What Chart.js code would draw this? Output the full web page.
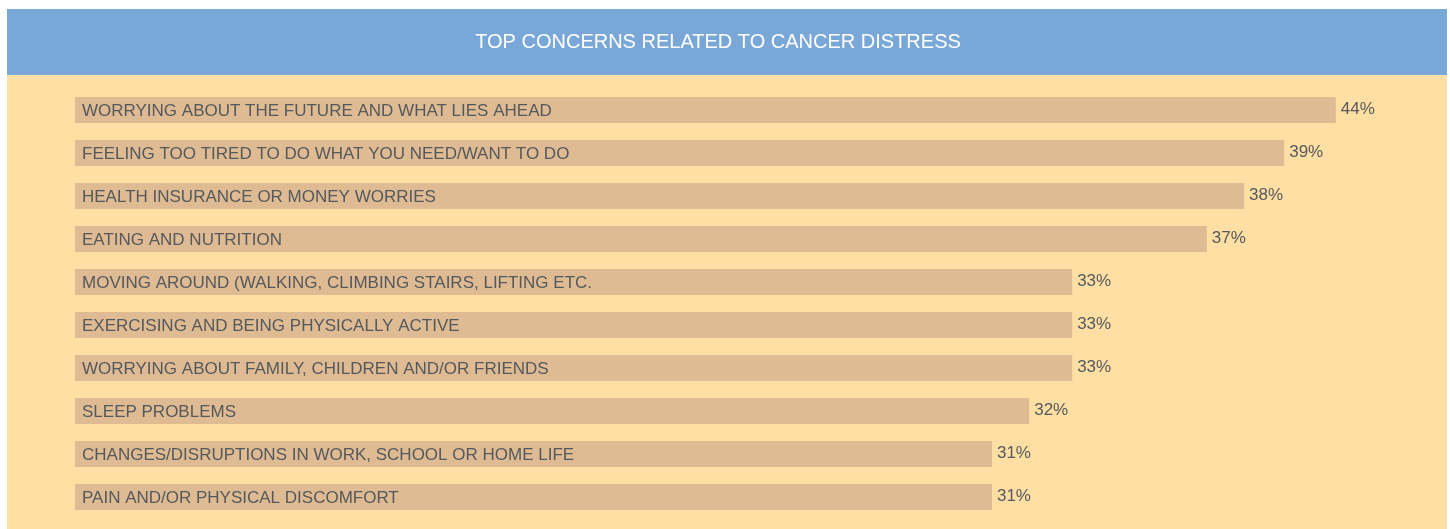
<!DOCTYPE html>
<html>
<head>
<meta charset="utf-8">
<script src="https://cdn.jsdelivr.net/npm/chart.js@4"></script>
<style>
    html, body { margin: 0; padding: 0; background: #ffffff; }
    #wrap { position: absolute; left: 7px; top: 9px; width: 1440px; height: 520px; }
</style>
</head>
<body>
<div id="wrap"><canvas id="concernChart"></canvas></div>
<script>
const concerns = [
    'WORRYING ABOUT THE FUTURE AND WHAT LIES AHEAD',
    'FEELING TOO TIRED TO DO WHAT YOU NEED/WANT TO DO',
    'HEALTH INSURANCE OR MONEY WORRIES',
    'EATING AND NUTRITION',
    'MOVING AROUND (WALKING, CLIMBING STAIRS, LIFTING ETC.',
    'EXERCISING AND BEING PHYSICALLY ACTIVE',
    'WORRYING ABOUT FAMILY, CHILDREN AND/OR FRIENDS',
    'SLEEP PROBLEMS',
    'CHANGES/DISRUPTIONS IN WORK, SCHOOL OR HOME LIFE',
    'PAIN AND/OR PHYSICAL DISCOMFORT'
];

// printed percentages
const shares = [44, 39, 38, 37, 33, 33, 33, 32, 31, 31];

// bar lengths as drawn in the picture (the original bars are not to scale)
const barLengths = [44.0, 42.2, 40.8, 39.5, 34.8, 34.8, 34.8, 33.3, 32.0, 32.0];

const titleText = 'TOP CONCERNS RELATED TO CANCER DISTRESS';

const bandHeight = 66;
const textColor = '#55595c';
const textFont = '17px "Liberation Sans", Arial, sans-serif';

const backgroundPlugin = {
    id: 'backgroundPlugin',
    beforeDraw(chart) {
        const c = chart.ctx;
        c.save();
        c.fillStyle = '#ffdfa3';
        c.fillRect(0, 0, chart.width, chart.height);
        c.fillStyle = '#79a8d8';
        c.fillRect(0, 0, chart.width, bandHeight);
        c.restore();
    }
};

const barTextPlugin = {
    id: 'barTextPlugin',
    afterDatasetsDraw(chart) {
        const c = chart.ctx;
        const meta = chart.getDatasetMeta(0);
        c.save();
        c.textBaseline = 'middle';
        c.textAlign = 'left';
        c.fillStyle = textColor;
        c.font = textFont;
        meta.data.forEach((bar, i) => {
            c.fillText(concerns[i], bar.base + 7, bar.y + 1.5);
            c.fillText(shares[i] + '%', bar.x + 5, bar.y - 1);
        });
        c.restore();
    }
};

const ctx = document.getElementById('concernChart').getContext('2d');

new Chart(ctx, {
    type: 'bar',
    data: {
        labels: concerns,
        datasets: [{
            data: barLengths,
            backgroundColor: '#dfbb94',
            borderWidth: 0,
            categoryPercentage: 1,
            barPercentage: 0.605
        }]
    },
    options: {
        indexAxis: 'y',
        responsive: true,
        maintainAspectRatio: false,
        animation: false,
        layout: {
            padding: { left: 68, right: 86, top: 0, bottom: 10.5 }
        },
        scales: {
            x: { display: false, min: 0, max: 44.88 },
            y: { display: false }
        },
        plugins: {
            legend: { display: false },
            tooltip: { enabled: false },
            title: {
                display: true,
                text: titleText,
                color: '#ffffff',
                font: { family: '"Liberation Sans", Arial, sans-serif', size: 20, weight: 'normal', lineHeight: 1.2 },
                padding: { top: 21.5, bottom: 34 }
            }
        }
    },
    plugins: [backgroundPlugin, barTextPlugin]
});
</script>
</body>
</html>
